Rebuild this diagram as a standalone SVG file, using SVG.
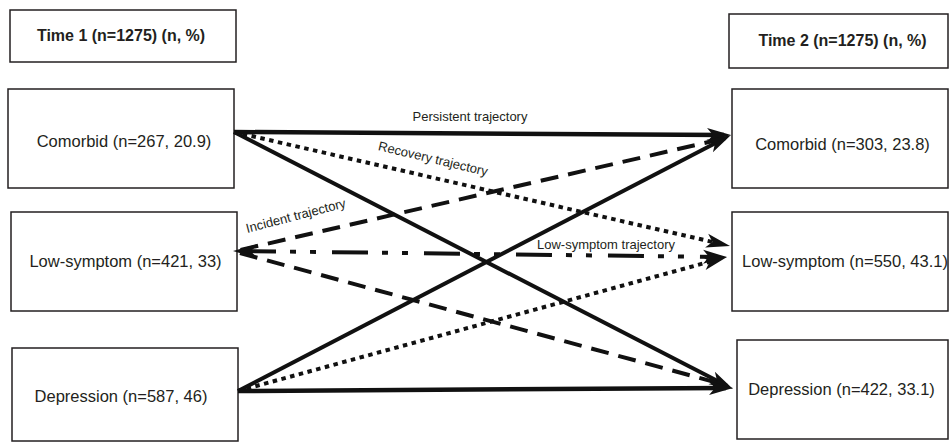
<svg xmlns="http://www.w3.org/2000/svg" width="949" height="444" viewBox="0 0 949 444">
<defs>
<style>
.box{fill:#fff;stroke:#231f20;stroke-width:1.5}
.nt{font-family:"Liberation Sans",Arial,sans-serif;font-size:16.5px;fill:#231f20;text-anchor:middle}
.ht{font-family:"Liberation Sans",Arial,sans-serif;font-size:16px;font-weight:bold;fill:#231f20;text-anchor:middle}
.lt{font-family:"Liberation Sans",Arial,sans-serif;font-size:13px;fill:#231f20;text-anchor:middle}
.ln{fill:none;stroke:#111;stroke-width:4}
.dot{stroke-dasharray:4.5 4.5}
.dash{stroke-dasharray:18 10}
.dd{stroke-dasharray:36 14 6 14 6 16}
</style>
<marker id="ah" viewBox="0 -8 24 16" refX="17" refY="0" markerWidth="24" markerHeight="16" markerUnits="userSpaceOnUse" orient="auto-start-reverse">
<path d="M0,-7 L24,0 L0,7 L6,0 Z" fill="#111"/>
</marker>
</defs>

<g id="time1"><rect class="box" x="10" y="10" width="226" height="52"/><text class="ht" x="121" y="40.5">Time 1 (n=1275) (n, %)</text></g>
<g id="time2"><rect class="box" x="729" y="14" width="219" height="54"/><text class="ht" x="842.5" y="46">Time 2 (n=1275) (n, %)</text></g>

<g id="comorbid1"><rect class="box" x="8" y="89" width="226" height="99"/><text class="nt" x="124" y="147">Comorbid (n=267, 20.9)</text></g>
<g id="low1"><rect class="box" x="11" y="212" width="226" height="99"/><text class="nt" x="125.5" y="266.5">Low-symptom (n=421, 33)</text></g>
<g id="depression1"><rect class="box" x="12" y="348" width="226" height="93"/><text class="nt" x="121" y="401.5">Depression (n=587, 46)</text></g>

<g id="comorbid2"><rect class="box" x="732" y="89" width="216" height="99"/><text class="nt" x="842.5" y="150">Comorbid (n=303, 23.8)</text></g>
<g id="low2"><rect class="box" x="732" y="212" width="216" height="99"/><text class="nt" x="845" y="266.5">Low-symptom (n=550, 43.1)</text></g>
<g id="depression2"><rect class="box" x="737" y="340" width="211" height="99"/><text class="nt" x="841.5" y="395">Depression (n=422, 33.1)</text></g>

<g id="connectors">
<line class="ln" x1="234" y1="132" x2="724" y2="135" marker-end="url(#ah)" style="stroke-width:4.5"/>
<line class="ln dot" x1="234" y1="132" x2="723.2" y2="244.4" marker-end="url(#ah)"/>
<line class="ln" x1="234" y1="132" x2="726.8" y2="385.8" marker-end="url(#ah)"/>
<line class="ln dash" x1="722" y1="139" x2="240" y2="250"/>
<line class="ln dd" x1="240" y1="251" x2="720" y2="257" marker-start="url(#ah)" marker-end="url(#ah)"/>
<line class="ln dash" x1="240" y1="253" x2="722" y2="384"/>
<line class="ln" x1="238" y1="391" x2="724.8" y2="138.2" marker-end="url(#ah)"/>
<line class="ln dot" x1="238" y1="391" x2="720.2" y2="258.8" marker-end="url(#ah)"/>
<line class="ln" x1="238" y1="391" x2="726" y2="388" marker-end="url(#ah)" style="stroke-width:4.5"/>
<text class="lt" x="470" y="121">Persistent trajectory</text>
<text class="lt" transform="translate(432,163) rotate(13.3)">Recovery trajectory</text>
<text class="lt" transform="translate(297,220) rotate(-14.6)">Incident trajectory</text>
<text class="lt" x="606" y="249">Low-symptom trajectory</text>
</g>
</svg>
